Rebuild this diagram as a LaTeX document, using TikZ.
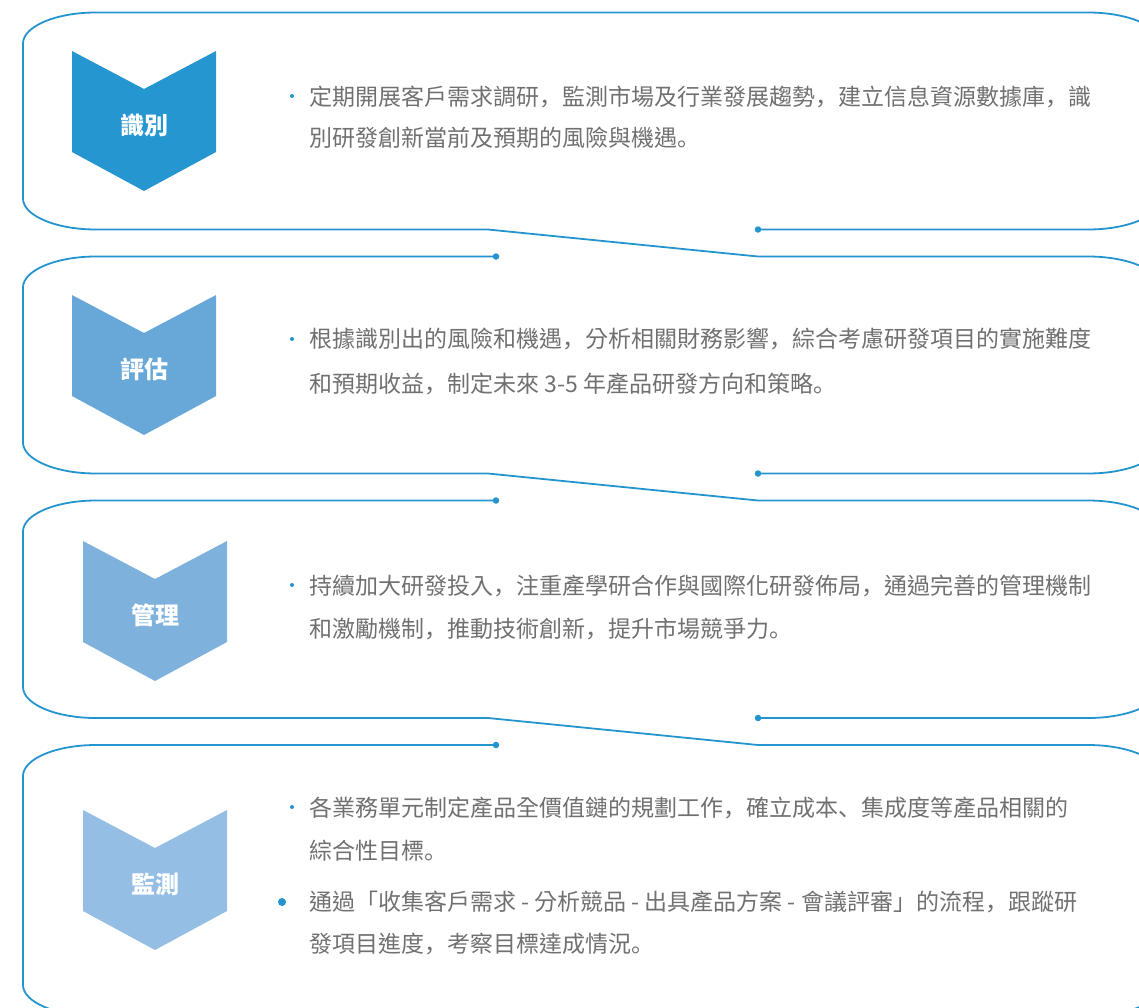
\documentclass[tikz,border=0pt]{standalone}
\usepackage{fontspec}
\setmainfont{Noto Sans CJK TC}
\newfontfamily\punctfont{Noto Sans CJK SC}
\newcommand{\zc}{{\punctfont ，}}
\newcommand{\zp}{{\punctfont 。}}
\newcommand{\zd}{{\punctfont 、}}
\definecolor{lineblue}{RGB}{36,148,207}
\definecolor{chevA}{RGB}{37,150,208}
\definecolor{chevB}{RGB}{104,168,216}
\definecolor{chevC}{RGB}{126,178,221}
\definecolor{chevD}{RGB}{148,190,227}
\definecolor{bodygray}{RGB}{112,112,112}
\begin{document}
\begin{tikzpicture}[x=1pt,y=-1pt,
  panelline/.style={draw=lineblue, line width=1.8pt, line join=round},
  enddot/.style={circle, fill=lineblue, inner sep=0pt, minimum size=6.5pt},
  chevlabel/.style={text=white, font=\fontsize{24}{24}\selectfont\bfseries, anchor=base, inner sep=0pt},
  bodytext/.style={text=bodygray, font=\fontsize{23}{23}\selectfont, anchor=base west, inner sep=0pt},
  smallbullet/.style={circle, fill=lineblue, inner sep=0pt, minimum size=4pt},
  bigbullet/.style={circle, fill=lineblue, inner sep=0pt, minimum size=8pt}]
\useasboundingbox (0,0) rectangle (1139,1007);
\begin{scope}
\clip (0,0) rectangle (1139,1007);
% panel outlines
\draw[panelline] (758,229.5) -- (1088,229.5) .. controls (1128.3,229.5) and (1161,215.6) .. (1161,198.5) -- (1161,43.5) .. controls (1161,26.4) and (1128.3,12.5) .. (1088,12.5) -- (96,12.5) .. controls (55.7,12.5) and (23,26.4) .. (23,43.5) -- (23,198.5) .. controls (23,215.6) and (55.7,229.5) .. (96,229.5) -- (488,229.5) -- (758,256.5) -- (1088,256.5) .. controls (1128.3,256.5) and (1161,270.4) .. (1161,287.5) -- (1161,442.5) .. controls (1161,459.6) and (1128.3,473.5) .. (1088,473.5) -- (758,473.5);
\draw[panelline] (496,256.5) -- (96,256.5) .. controls (55.7,256.5) and (23,270.4) .. (23,287.5) -- (23,442.5) .. controls (23,459.6) and (55.7,473.5) .. (96,473.5) -- (488,473.5) -- (758,500.5) -- (1088,500.5) .. controls (1128.3,500.5) and (1161,514.4) .. (1161,531.5) -- (1161,687) .. controls (1161,704.1) and (1128.3,718) .. (1088,718) -- (758,718);
\draw[panelline] (496,500.5) -- (96,500.5) .. controls (55.7,500.5) and (23,514.4) .. (23,531.5) -- (23,687) .. controls (23,704.1) and (55.7,718) .. (96,718) -- (488,718) -- (758,745) -- (1088,745) .. controls (1128.3,745) and (1161,758.9) .. (1161,776) -- (1161,985) .. controls (1161,1002.1) and (1128.3,1016) .. (1088,1016) -- (96,1016) .. controls (55.7,1016) and (23,1002.1) .. (23,985) -- (23,776) .. controls (23,758.9) and (55.7,745) .. (96,745) -- (496,745);
\end{scope}
% end dots
\node[enddot] (d1) at (758,229.5) {};
\node[enddot] (d2) at (496,256.5) {};
\node[enddot] (d3) at (758,473.5) {};
\node[enddot] (d4) at (496,500.5) {};
\node[enddot] (d5) at (758,718) {};
\node[enddot] (d6) at (496,745) {};
% chevrons
\fill[chevA] (72,51) -- (144,89) -- (216,51) -- (216,152) -- (144,191) -- (72,152) -- cycle;
\fill[chevB] (72,295) -- (144,333) -- (216,295) -- (216,396) -- (144,435) -- (72,396) -- cycle;
\fill[chevC] (83,541) -- (155,579) -- (227,541) -- (227,642) -- (155,681) -- (83,642) -- cycle;
\fill[chevD] (83,810) -- (155,848) -- (227,810) -- (227,911) -- (155,950) -- (83,911) -- cycle;
\node[chevlabel] (l1) at (144,134) {識別};
\node[chevlabel] (l2) at (144,378) {評估};
\node[chevlabel] (l3) at (155,624) {管理};
\node[chevlabel] (l4) at (155,893) {監測};
% bullets
\node[smallbullet] (b1) at (292,96) {};
\node[smallbullet] (b2) at (292,339) {};
\node[smallbullet] (b3) at (292,585) {};
\node[smallbullet] (b4) at (292,807) {};
\node[bigbullet] (b5) at (282,902) {};
% body text
\node[bodytext] (t11) at (309,105.5) {定期開展客戶需求調研\zc 監測市場及行業發展趨勢\zc 建立信息資源數據庫\zc 識};
\node[bodytext] (t12) at (309,146.5) {別研發創新當前及預期的風險與機遇\zp};
\node[bodytext] (t21) at (309,347.5) {根據識別出的風險和機遇\zc 分析相關財務影響\zc 綜合考慮研發項目的實施難度};
\node[bodytext] (t22) at (309,392.5) {和預期收益\zc 制定未來 3-5 年產品研發方向和策略\zp};
\node[bodytext] (t31) at (309,594.5) {持續加大研發投入\zc 注重產學研合作與國際化研發佈局\zc 通過完善的管理機制};
\node[bodytext] (t32) at (309,637.5) {和激勵機制\zc 推動技術創新\zc 提升市場競爭力\zp};
\node[bodytext] (t41) at (309,816.5) {各業務單元制定產品全價值鏈的規劃工作\zc 確立成本\zd 集成度等產品相關的};
\node[bodytext] (t42) at (309,859.5) {綜合性目標\zp};
\node[bodytext] (t43) at (309,910.5) {通過「收集客戶需求 - 分析競品 - 出具產品方案 - 會議評審」的流程\zc 跟蹤研};
\node[bodytext] (t44) at (309,952.5) {發項目進度\zc 考察目標達成情況\zp};
\end{tikzpicture}
\end{document}
